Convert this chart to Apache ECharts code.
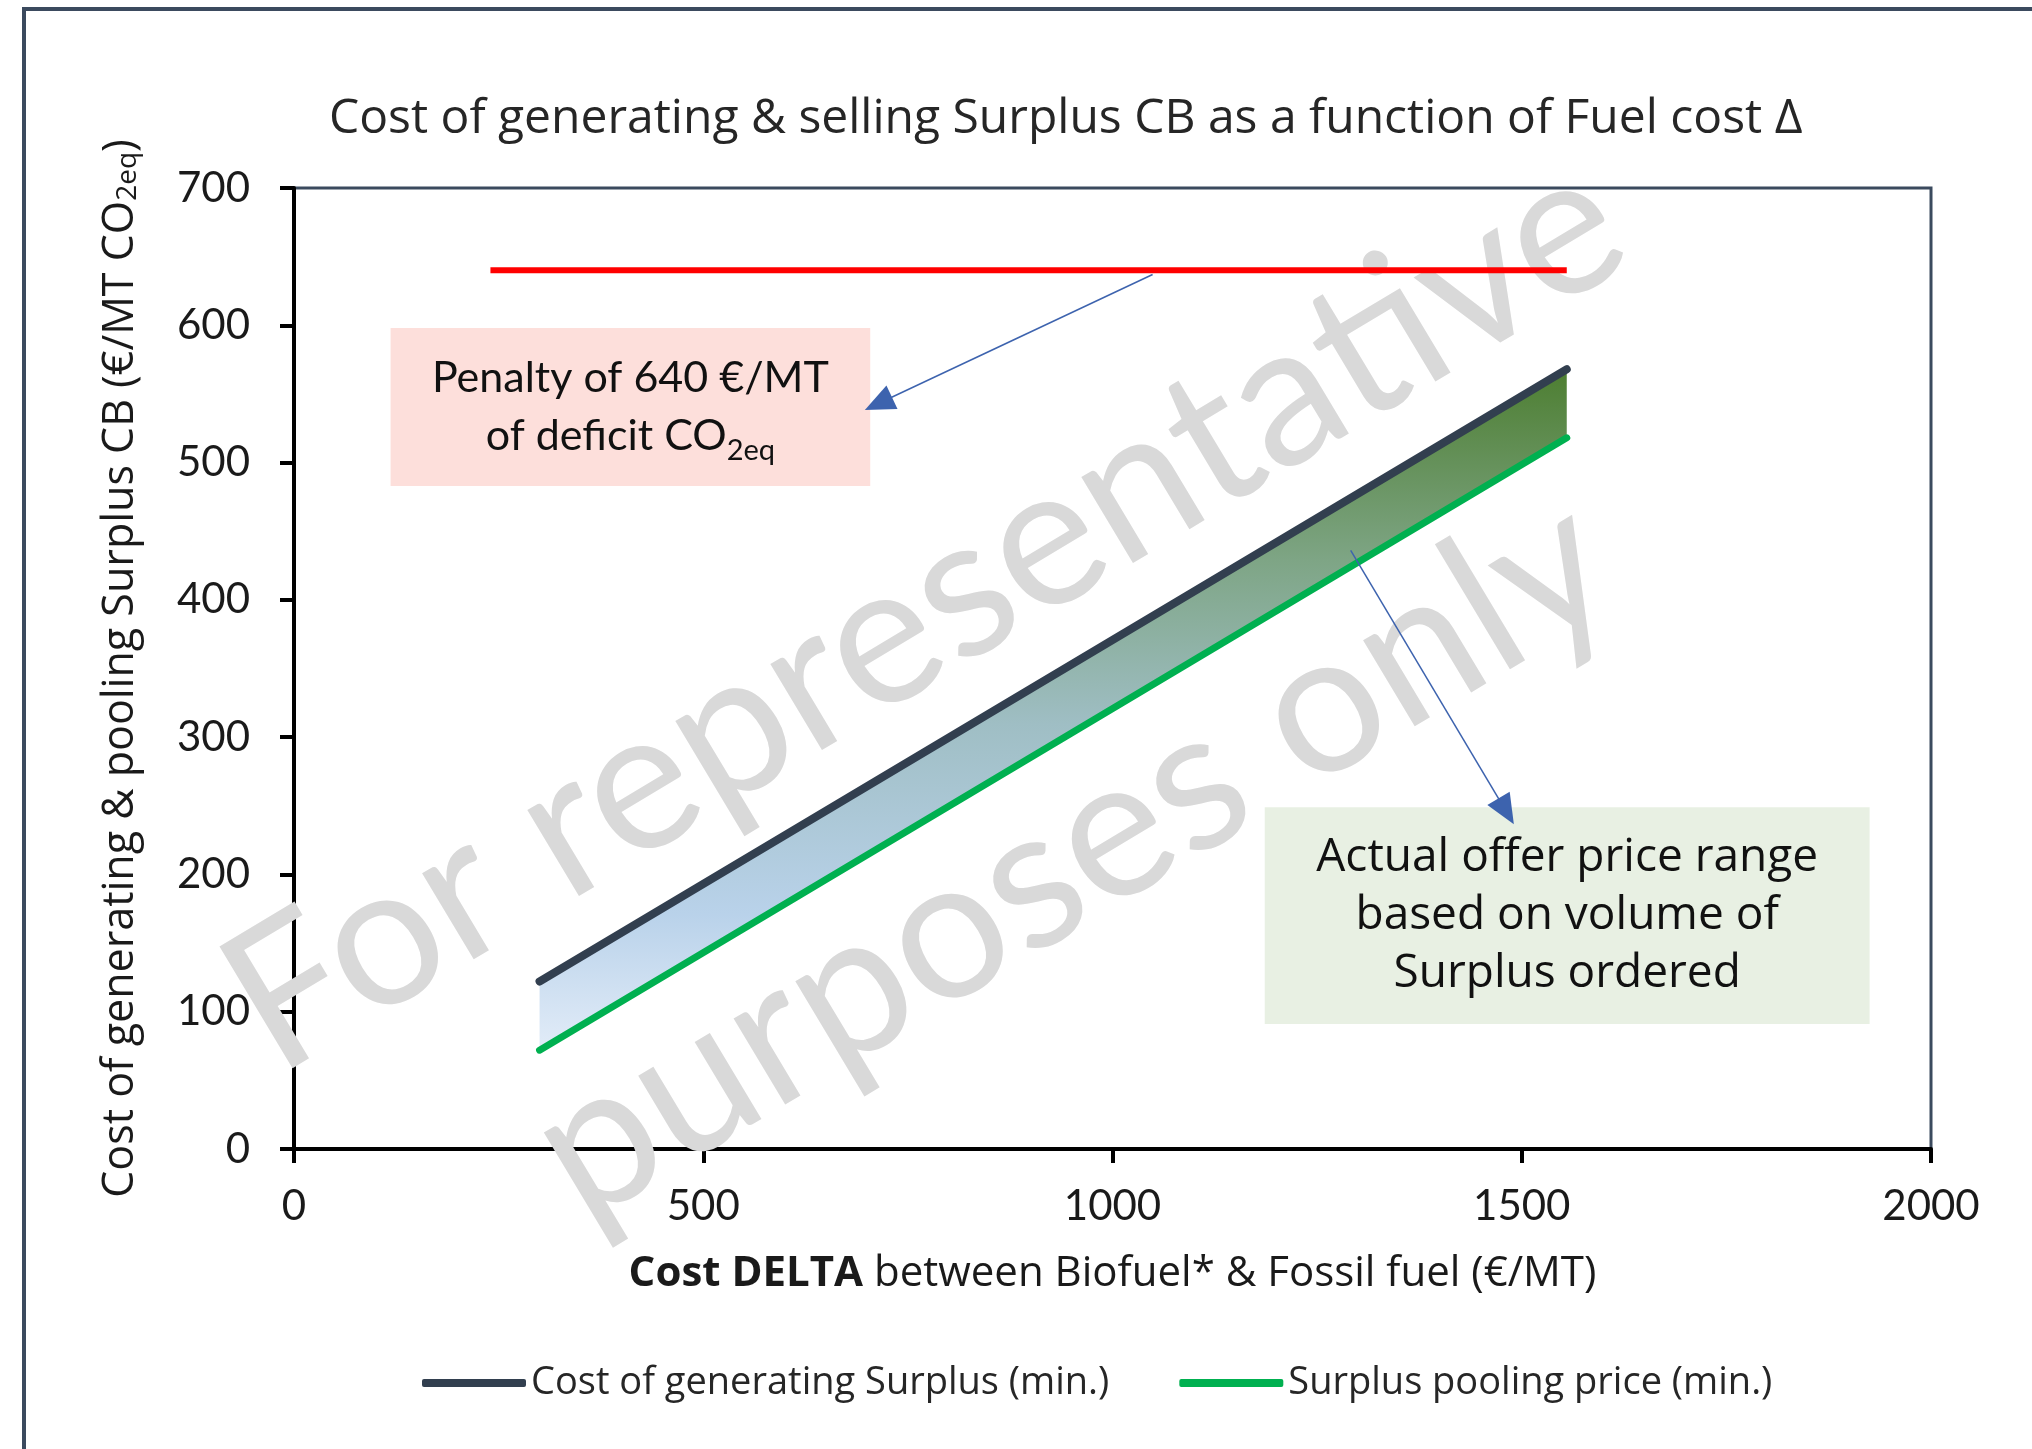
<!DOCTYPE html>
<html>
<head>
<meta charset="utf-8">
<script src="https://cdn.jsdelivr.net/npm/echarts@6/dist/echarts.min.js"></script>
<style>
  html, body { margin: 0; padding: 0; background: #fff; }
  #main { width: 2032px; height: 1449px; }
</style>
</head>
<body>
<div id="main"></div>
<script>
// 数据（从图上读出的端点）
const costDelta = [300, 1555];              // x: Cost DELTA (€/MT)
const costGenerating = [122, 568];          // Cost of generating Surplus (min.)
const poolingPrice = [72, 518];             // Surplus pooling price (min.)
const penaltyDelta = [240, 1555];
const penaltyValue = [640, 640];            // Penalty of 640 €/MT
const xTicks = [0, 500, 1000, 1500, 2000];
const yTicks = [0, 100, 200, 300, 400, 500, 600, 700];
// 注释框和箭头（数据坐标）
const penaltyBox = [[118, 483], [704, 598]];
const offerBox = [[1186, 91], [1925, 249]];
const penaltyArrow = [[1049, 637], [714, 543]];
const offerArrow = [[1291, 436], [1481, 246]];

const seriesNames = ['Cost of generating Surplus (min.)', 'Surplus pooling price (min.)'];

var chartDom = document.getElementById('main');
var myChart = echarts.init(chartDom);

function pairs(xs, ys) {
    var list = [];
    for (var i = 0; i < xs.length; i++) {
        list.push([xs[i], ys[i]]);
    }
    return list;
}

var bandData = costDelta.map(function (x, i) {
    return [x, costGenerating[i], poolingPrice[i]];
});

var option = {
    backgroundColor: '#fff',
    animation: false,
    title: {
        text: 'Cost of generating & selling Surplus CB as a function of Fuel cost Δ',
        left: 324,
        top: 90,
        textStyle: {
            fontFamily: 'Open Sans',
            fontSize: 48,
            fontWeight: 'normal',
            color: '#262626'
        }
    },
    grid: {
        left: 294,
        right: 101,
        top: 188,
        bottom: 300,
        show: true,
        borderColor: '#3b4a5e',
        borderWidth: 3
    },
    legend: {
        data: seriesNames,
        left: 417,
        top: 1359,
        icon: 'roundRect',
        itemWidth: 104,
        itemHeight: 8,
        itemGap: 70,
        textStyle: {
            fontFamily: 'Open Sans',
            fontSize: 38,
            color: '#262626'
        }
    },
    graphic: [
        {
            // 外框
            type: 'rect',
            silent: true,
            z: 0,
            shape: { x: 24, y: 9, width: 2100, height: 1500 },
            style: { fill: null, stroke: '#3b4a5e', lineWidth: 4 }
        },
        {
            // 水印
            type: 'text',
            silent: true,
            z: 1,
            x: 998,
            y: 736,
            rotation: 31 * Math.PI / 180,
            style: {
                text: 'For representative\npurposes only',
                fontFamily: 'Lato',
                fontSize: 198,
                lineHeight: 285,
                fill: '#d9d9d9',
                align: 'center',
                verticalAlign: 'middle'
            }
        }
    ],
    xAxis: {
        type: 'value',
        min: 0,
        max: 2000,
        interval: 500,
        name: '{b|Cost DELTA} between Biofuel* & Fossil fuel (€/MT)',
        nameLocation: 'middle',
        nameGap: 104,
        nameTextStyle: {
            fontFamily: 'Open Sans',
            fontSize: 42,
            color: '#1a1a1a',
            rich: {
                b: { fontFamily: 'Open Sans', fontSize: 42, fontWeight: 'bold', color: '#1a1a1a' }
            }
        },
        splitLine: { show: false },
        axisLine: { lineStyle: { color: '#000', width: 4 } },
        axisTick: { show: true, inside: false, length: 14, lineStyle: { color: '#000', width: 4 } },
        axisLabel: {
            margin: 36,
            fontFamily: 'Lato',
            fontSize: 42,
            color: '#1a1a1a',
            formatter: function (v) { return xTicks.indexOf(v) >= 0 ? String(v) : ''; }
        }
    },
    yAxis: {
        type: 'value',
        min: 0,
        max: 700,
        interval: 100,
        name: 'Cost of generating & pooling Surplus CB (€/MT CO{s|2eq})',
        nameLocation: 'middle',
        nameGap: 152,
        nameRotate: 90,
        nameTextStyle: {
            fontFamily: 'Open Sans',
            fontSize: 43,
            color: '#1a1a1a',
            rich: {
                s: { fontFamily: 'Open Sans', fontSize: 28, color: '#1a1a1a', verticalAlign: 'bottom', padding: [15, 0, 0, 0] }
            }
        },
        splitLine: { show: false },
        axisLine: { show: true, lineStyle: { color: '#000', width: 4 } },
        axisTick: { show: true, inside: false, length: 14, lineStyle: { color: '#000', width: 4 } },
        axisLabel: {
            margin: 44,
            fontFamily: 'Lato',
            fontSize: 42,
            color: '#1a1a1a',
            formatter: function (v) { return yTicks.indexOf(v) >= 0 ? String(v) : ''; }
        }
    },
    series: [
        {
            // 价格区间渐变带
            name: 'band',
            type: 'custom',
            z: 2,
            silent: true,
            data: bandData,
            encode: { x: 0, y: [1, 2] },
            renderItem: function (params, api) {
                if (params.dataIndex !== 0) return;
                var pts = [];
                for (var i = 0; i < costDelta.length; i++) {
                    pts.push(api.coord([costDelta[i], costGenerating[i]]));
                }
                for (var j = costDelta.length - 1; j >= 0; j--) {
                    pts.push(api.coord([costDelta[j], poolingPrice[j]]));
                }
                return {
                    type: 'polygon',
                    shape: { points: pts },
                    style: {
                        fill: new echarts.graphic.LinearGradient(0, 0, 0, 1, [
                            { offset: 0, color: '#4d7e31' },
                            { offset: 0.28, color: '#7ea585' },
                            { offset: 0.52, color: '#9fbec4' },
                            { offset: 0.8, color: '#b9d2ea' },
                            { offset: 1, color: '#e2ecf8' }
                        ]),
                        stroke: null
                    }
                };
            }
        },
        {
            name: seriesNames[0],
            type: 'line',
            z: 3,
            data: pairs(costDelta, costGenerating),
            symbol: 'none',
            color: '#323f4f',
            lineStyle: { color: '#323f4f', width: 8, cap: 'round' }
        },
        {
            name: seriesNames[1],
            type: 'line',
            z: 3,
            data: pairs(costDelta, poolingPrice),
            symbol: 'none',
            color: '#00b050',
            lineStyle: { color: '#00b050', width: 7, cap: 'round' }
        },
        {
            name: 'Penalty',
            type: 'line',
            z: 3,
            data: pairs(penaltyDelta, penaltyValue),
            symbol: 'none',
            color: '#ff0000',
            lineStyle: { color: '#ff0000', width: 6 },
            markArea: {
                silent: true,
                data: [
                    [
                        {
                            coord: penaltyBox[0],
                            itemStyle: { color: '#fddfdb', opacity: 1 },
                            label: {
                                show: true,
                                position: 'inside',
                                formatter: 'Penalty of 640 €/MT\nof deficit CO{s|2eq}',
                                fontFamily: 'Lato',
                                fontSize: 43,
                                lineHeight: 58,
                                color: '#111',
                                align: 'center',
                                rich: {
                                    s: { fontFamily: 'Lato', fontSize: 29, color: '#111', verticalAlign: 'bottom', padding: [16, 0, 0, 0] }
                                }
                            }
                        },
                        { coord: penaltyBox[1] }
                    ],
                    [
                        {
                            coord: offerBox[0],
                            itemStyle: { color: '#e8f0e3', opacity: 1 },
                            label: {
                                show: true,
                                position: 'inside',
                                formatter: 'Actual offer price range\nbased on volume of\nSurplus ordered',
                                fontFamily: 'Open Sans',
                                fontSize: 46,
                                lineHeight: 58,
                                color: '#111',
                                align: 'center',
                                padding: [8, 0, 0, 0]
                            }
                        },
                        { coord: offerBox[1] }
                    ]
                ]
            },
            markLine: {
                silent: true,
                symbol: ['none', 'triangle'],
                symbolSize: [26, 30],
                label: { show: false },
                lineStyle: { color: '#3d63ae', width: 1.5, type: 'solid' },
                data: [
                    [{ coord: penaltyArrow[0] }, { coord: penaltyArrow[1] }],
                    [{ coord: offerArrow[0] }, { coord: offerArrow[1] }]
                ]
            }
        }
    ]
};

myChart.setOption(option);
</script>
</body>
</html>
